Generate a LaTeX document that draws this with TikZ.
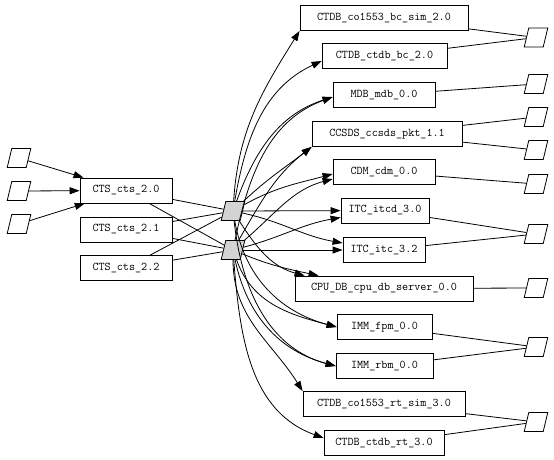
\documentclass[tikz,border=0pt]{standalone}
\usepackage{tikz}
\usetikzlibrary{arrows.meta}
\definecolor{hubgray}{HTML}{D3D3D3}

\begin{document}
\begin{tikzpicture}[x=1pt,y=1pt,
		comp/.style={rectangle,draw,line width=0.8pt,minimum height=25,inner sep=0,font=\ttfamily\fontsize{11.8}{14}\selectfont},
		port/.style={rectangle,draw,line width=0.8pt,xslant=0.24,minimum width=19,minimum height=19,inner sep=0},
		hub/.style={port,fill=hubgray},
		link/.style={line width=0.8pt},
		dep/.style={link,-{Triangle[length=10pt,width=7pt]}}]
	\useasboundingbox (0,0) rectangle (554,-460);
	% Inputs
	\node[port] (in1) at (19,-158) {};
	\node[port] (in2) at (19,-191) {};
	\node[port] (in3) at (19,-224) {};
	% CTS versions
	\node[comp,minimum width=92] (cts20) at (126,-190.5) {CTS\_cts\_2.0};
	\node[comp,minimum width=92] (cts21) at (126,-229.5) {CTS\_cts\_2.1};
	\node[comp,minimum width=92] (cts22) at (126,-268) {CTS\_cts\_2.2};
	% Hubs
	\node[hub] (hubA) at (233,-211) {};
	\node[hub] (hubB) at (233,-250) {};
	% Components
	\node[comp,minimum width=168] (bcsim) at (384,-18) {CTDB\_co1553\_bc\_sim\_2.0};
	\node[comp,minimum width=125] (ctdbbc) at (384.5,-56) {CTDB\_ctdb\_bc\_2.0};
	\node[comp,minimum width=102] (mdb) at (384,-95) {MDB\_mdb\_0.0};
	\node[comp,minimum width=150] (ccsds) at (387,-134) {CCSDS\_ccsds\_pkt\_1.1};
	\node[comp,minimum width=102] (cdm) at (384,-172) {CDM\_cdm\_0.0};
	\node[comp,minimum width=88] (itcd) at (385,-210.5) {ITC\_itcd\_3.0};
	\node[comp,minimum width=82] (itc) at (384,-250) {ITC\_itc\_3.2};
	\node[comp,minimum width=178] (cpudb) at (384,-288.5) {CPU\_DB\_cpu\_db\_server\_0.0};
	\node[comp,minimum width=95] (fpm) at (384.5,-327) {IMM\_fpm\_0.0};
	\node[comp,minimum width=97] (rbm) at (384.5,-366) {IMM\_rbm\_0.0};
	\node[comp,minimum width=162] (rtsim) at (384,-404) {CTDB\_co1553\_rt\_sim\_3.0};
	\node[comp,minimum width=120] (ctdbrt) at (384,-443) {CTDB\_ctdb\_rt\_3.0};
	% Outputs
	\node[port] (out1) at (536,-37.5) {};
	\node[port] (out2) at (536,-84) {};
	\node[port] (out3) at (536,-117) {};
	\node[port] (out4) at (536,-150) {};
	\node[port] (out5) at (536,-184) {};
	\node[port] (out6) at (536,-234) {};
	\node[port] (out7) at (536,-288) {};
	\node[port] (out8) at (536,-347) {};
	\node[port] (out9) at (536,-422) {};
	% Inputs to CTS
	\foreach \p in {in1,in2,in3}
		\draw[dep] (\p) -- (cts20);
	% CTS to hubs
	\foreach \c in {cts20,cts21,cts22}{
		\draw[link] (\c) -- (hubA);
		\draw[link] (\c) -- (hubB);
	}
	% Hub A to components
	\draw[dep] (hubA) to[out=88,in=238] (bcsim.south west);
	\draw[dep] (hubA) to[out=82,in=205] ([yshift=-5]ctdbbc.west);
	\draw[dep] (hubA) to[out=72,in=198] ([yshift=-2]mdb.west);
	\draw[dep] (hubA) to[out=45,in=218] (ccsds.south west);
	\draw[dep] (hubA) to[out=30,in=195] ([yshift=-2]cdm.west);
	\draw[dep] (hubA) -- (itcd);
	\draw[dep] (hubA) to[out=-12,in=170] ([yshift=7]itc.west);
	\draw[dep] (hubA) to[out=-55,in=165] ([xshift=10]cpudb.north west);
	\draw[dep] (hubA) to[out=-78,in=165] (fpm.west);
	\draw[dep] (hubA) to[out=-82,in=165] (rbm.west);
	% Hub B to components
	\draw[dep] (hubB) to[out=80,in=200] ([yshift=-2]mdb.west);
	\draw[dep] (hubB) to[out=62,in=218] (ccsds.south west);
	\draw[dep] (hubB) to[out=42,in=195] ([yshift=-7]cdm.west);
	\draw[dep] (hubB) to[out=15,in=190] ([yshift=-7]itcd.west);
	\draw[dep] (hubB) -- (itc);
	\draw[dep] (hubB) to[out=-22,in=168] ([xshift=24]cpudb.north west);
	\draw[dep] (hubB) to[out=-68,in=165] (fpm.west);
	\draw[dep] (hubB) to[out=-76,in=165] (rbm.west);
	\draw[dep] (hubB) to[out=-88,in=122] (rtsim.north west);
	\draw[dep] (hubB) to[out=-84,in=160] ([yshift=5]ctdbrt.west);
	% Components to outputs
	\draw[link] (bcsim) -- (out1);
	\draw[link] (ctdbbc) -- (out1);
	\draw[link] (mdb) -- (out2);
	\draw[link] (ccsds) -- (out3);
	\draw[link] (ccsds) -- (out4);
	\draw[link] (cdm) -- (out5);
	\draw[link] (itcd) -- (out6);
	\draw[link] (itc) -- (out6);
	\draw[link] (cpudb) -- (out7);
	\draw[link] (fpm) -- (out8);
	\draw[link] (rbm) -- (out8);
	\draw[link] (rtsim) -- (out9);
	\draw[link] (ctdbrt) -- (out9);
\end{tikzpicture}
\end{document}
